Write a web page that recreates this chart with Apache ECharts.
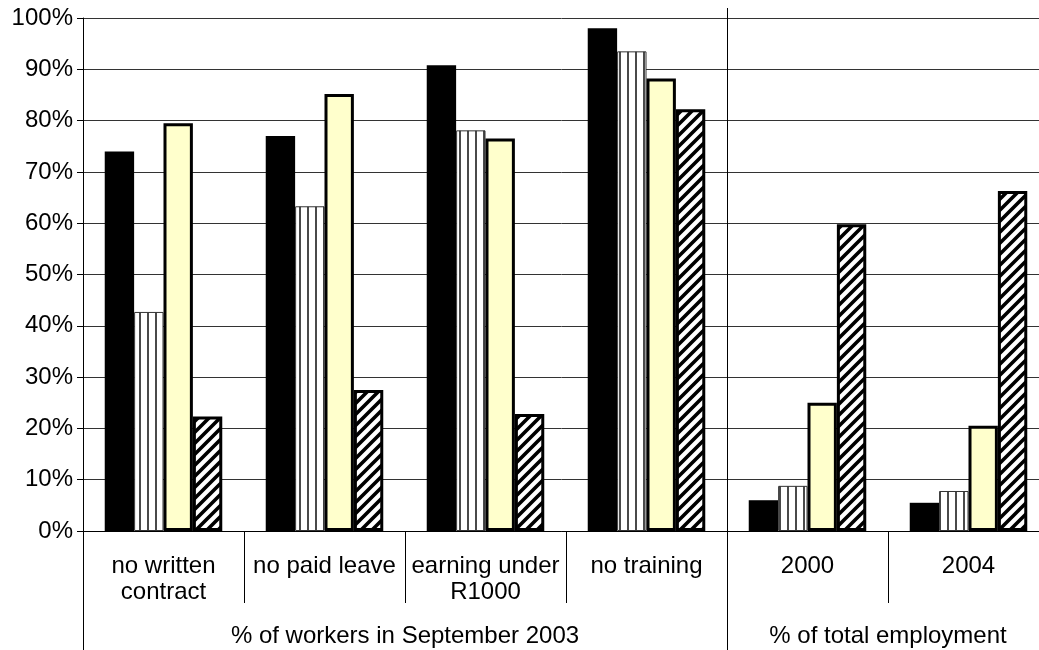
<!DOCTYPE html>
<html>
<head>
<meta charset="utf-8">
<script src="https://cdn.jsdelivr.net/npm/echarts@6/dist/echarts.min.js"></script>
<style>
  html, body { margin: 0; padding: 0; background: #fff; }
  #chart { width: 1039px; height: 650px; }
</style>
</head>
<body>
<div id="chart"></div>
<script>
// Categories along the bottom axis
const categories = ['no written\ncontract', 'no paid leave', 'earning under\nR1000', 'no training', '2000', '2004'];

// Outer grouping of the categories
const groupNames = ['% of workers in September 2003', '% of total employment'];
const groupStarts = [0, 4];
const groupSpans = [4, 2];

// Four series, in drawing order (values in %)
const seriesSolid   = [74, 77, 90.8, 98, 6, 5.5];
const seriesStripes = [42.7, 63.3, 78.1, 93.5, 8.8, 7.8];
const seriesYellow  = [79.5, 85.2, 76.5, 88.2, 25, 20.5];
const seriesHatched = [22.3, 27.5, 22.8, 82.2, 59.8, 66.3];

// Value axis
const yMin = 0;
const yMax = 100;
const yStep = 10;

const FONT = '"Liberation Sans", Arial, sans-serif';
const FONT_SIZE = 24;

// Fill tiles
function stripeTile() {
  const c = document.createElement('canvas');
  c.width = 8; c.height = 8;
  const g = c.getContext('2d');
  g.fillStyle = '#fff';
  g.fillRect(0, 0, 8, 8);
  g.fillStyle = '#4a4a4a';
  g.fillRect(3, 0, 2, 8);
  return c;
}
function hatchTile() {
  const s = 11;
  const c = document.createElement('canvas');
  c.width = s; c.height = s;
  const g = c.getContext('2d');
  g.fillStyle = '#fff';
  g.fillRect(0, 0, s, s);
  g.strokeStyle = '#000';
  g.lineWidth = 3.6;
  g.beginPath();
  g.moveTo(-1, s + 1); g.lineTo(s + 1, -1);
  g.moveTo(-s / 2 - 1, s / 2 + 1); g.lineTo(s / 2 + 1, -s / 2 - 1);
  g.moveTo(s / 2 - 1, s * 1.5 + 1); g.lineTo(s * 1.5 + 1, s / 2 - 1);
  g.stroke();
  return c;
}

// Half-category slots used by the grouping axis (boundaries and centres)
const slotCount = categories.length * 2 + 1;
const slots = Array.from({ length: slotCount }, (_, i) => String(i));
const slotLabel = {};
groupNames.forEach((name, i) => { slotLabel[2 * groupStarts[i] + groupSpans[i]] = name; });

const chart = echarts.init(document.getElementById('chart'), null, { renderer: 'canvas' });

const barCommon = {
  type: 'bar',
  xAxisIndex: 0,
  yAxisIndex: 0,
  barGap: '0%',
  barCategoryGap: '27%'
};

chart.setOption({
  animation: false,
  backgroundColor: '#fff',
  // the last category runs a little past the right edge of the page
  grid: { left: 83, top: 18, width: 966, height: 513, containLabel: false, outerBoundsMode: 'none' },
  xAxis: [
    {
      type: 'category',
      data: categories,
      position: 'bottom',
      axisLine: { show: true, lineStyle: { color: '#000', width: 1 } },
      axisTick: { show: true, interval: 0, length: 72, lineStyle: { color: '#000', width: 1 } },
      axisLabel: {
        interval: 0,
        margin: 22,
        color: '#000',
        fontFamily: FONT,
        fontSize: FONT_SIZE,
        lineHeight: 26
      },
      splitLine: { show: false }
    },
    {
      type: 'category',
      data: slots,
      boundaryGap: false,
      position: 'bottom',
      axisLine: { show: false },
      axisTick: { show: false },
      splitLine: { show: false },
      axisLabel: {
        interval: 0,
        margin: 93,
        color: '#000',
        fontFamily: FONT,
        fontSize: FONT_SIZE,
        formatter: (v) => slotLabel[Number(v)] || ''
      }
    }
  ],
  yAxis: {
    type: 'value',
    min: yMin,
    max: yMax,
    interval: yStep,
    axisLine: { show: true, lineStyle: { color: '#000', width: 1 } },
    axisTick: { show: true, length: 6, lineStyle: { color: '#000', width: 1 } },
    axisLabel: {
      margin: 10,
      color: '#000',
      fontFamily: FONT,
      fontSize: FONT_SIZE,
      formatter: '{value}%'
    },
    splitLine: { show: true, lineStyle: { color: '#333', width: 1 } }
  },
  series: [
    Object.assign({}, barCommon, {
      name: 'solid',
      data: seriesSolid,
      itemStyle: { color: '#000', borderWidth: 0 }
    }),
    Object.assign({}, barCommon, {
      name: 'stripes',
      data: seriesStripes,
      itemStyle: {
        color: { image: stripeTile(), repeat: 'repeat' },
        borderColor: '#333',
        borderWidth: 1
      }
    }),
    Object.assign({}, barCommon, {
      name: 'yellow',
      data: seriesYellow,
      itemStyle: { color: '#ffffcc', borderColor: '#000', borderWidth: 3 }
    }),
    Object.assign({}, barCommon, {
      name: 'hatched',
      data: seriesHatched,
      itemStyle: {
        color: { image: hatchTile(), repeat: 'repeat' },
        borderColor: '#000',
        borderWidth: 3
      }
    })
  ]
});

// Group dividers: the left edge and the split between the two groups run
// down through the label area; the inner split also rises above the top line.
function crisp(v) { return Math.round(v - 0.5) + 0.5; }
const yTopPx = chart.convertToPixel({ yAxisIndex: 0 }, yMax);
const yZeroPx = chart.convertToPixel({ yAxisIndex: 0 }, yMin);
const H = chart.getHeight();
const dividers = groupStarts.map((start, gi) => {
  const x = crisp(chart.convertToPixel({ xAxisIndex: 1 }, 2 * start));
  const y1 = gi === 0 ? yZeroPx : yTopPx - 10;
  return {
    type: 'line',
    shape: { x1: x, y1: y1, x2: x, y2: H },
    style: { stroke: '#000', lineWidth: 1 },
    z: 100,
    silent: true
  };
});
chart.setOption({ graphic: dividers });
</script>
</body>
</html>
